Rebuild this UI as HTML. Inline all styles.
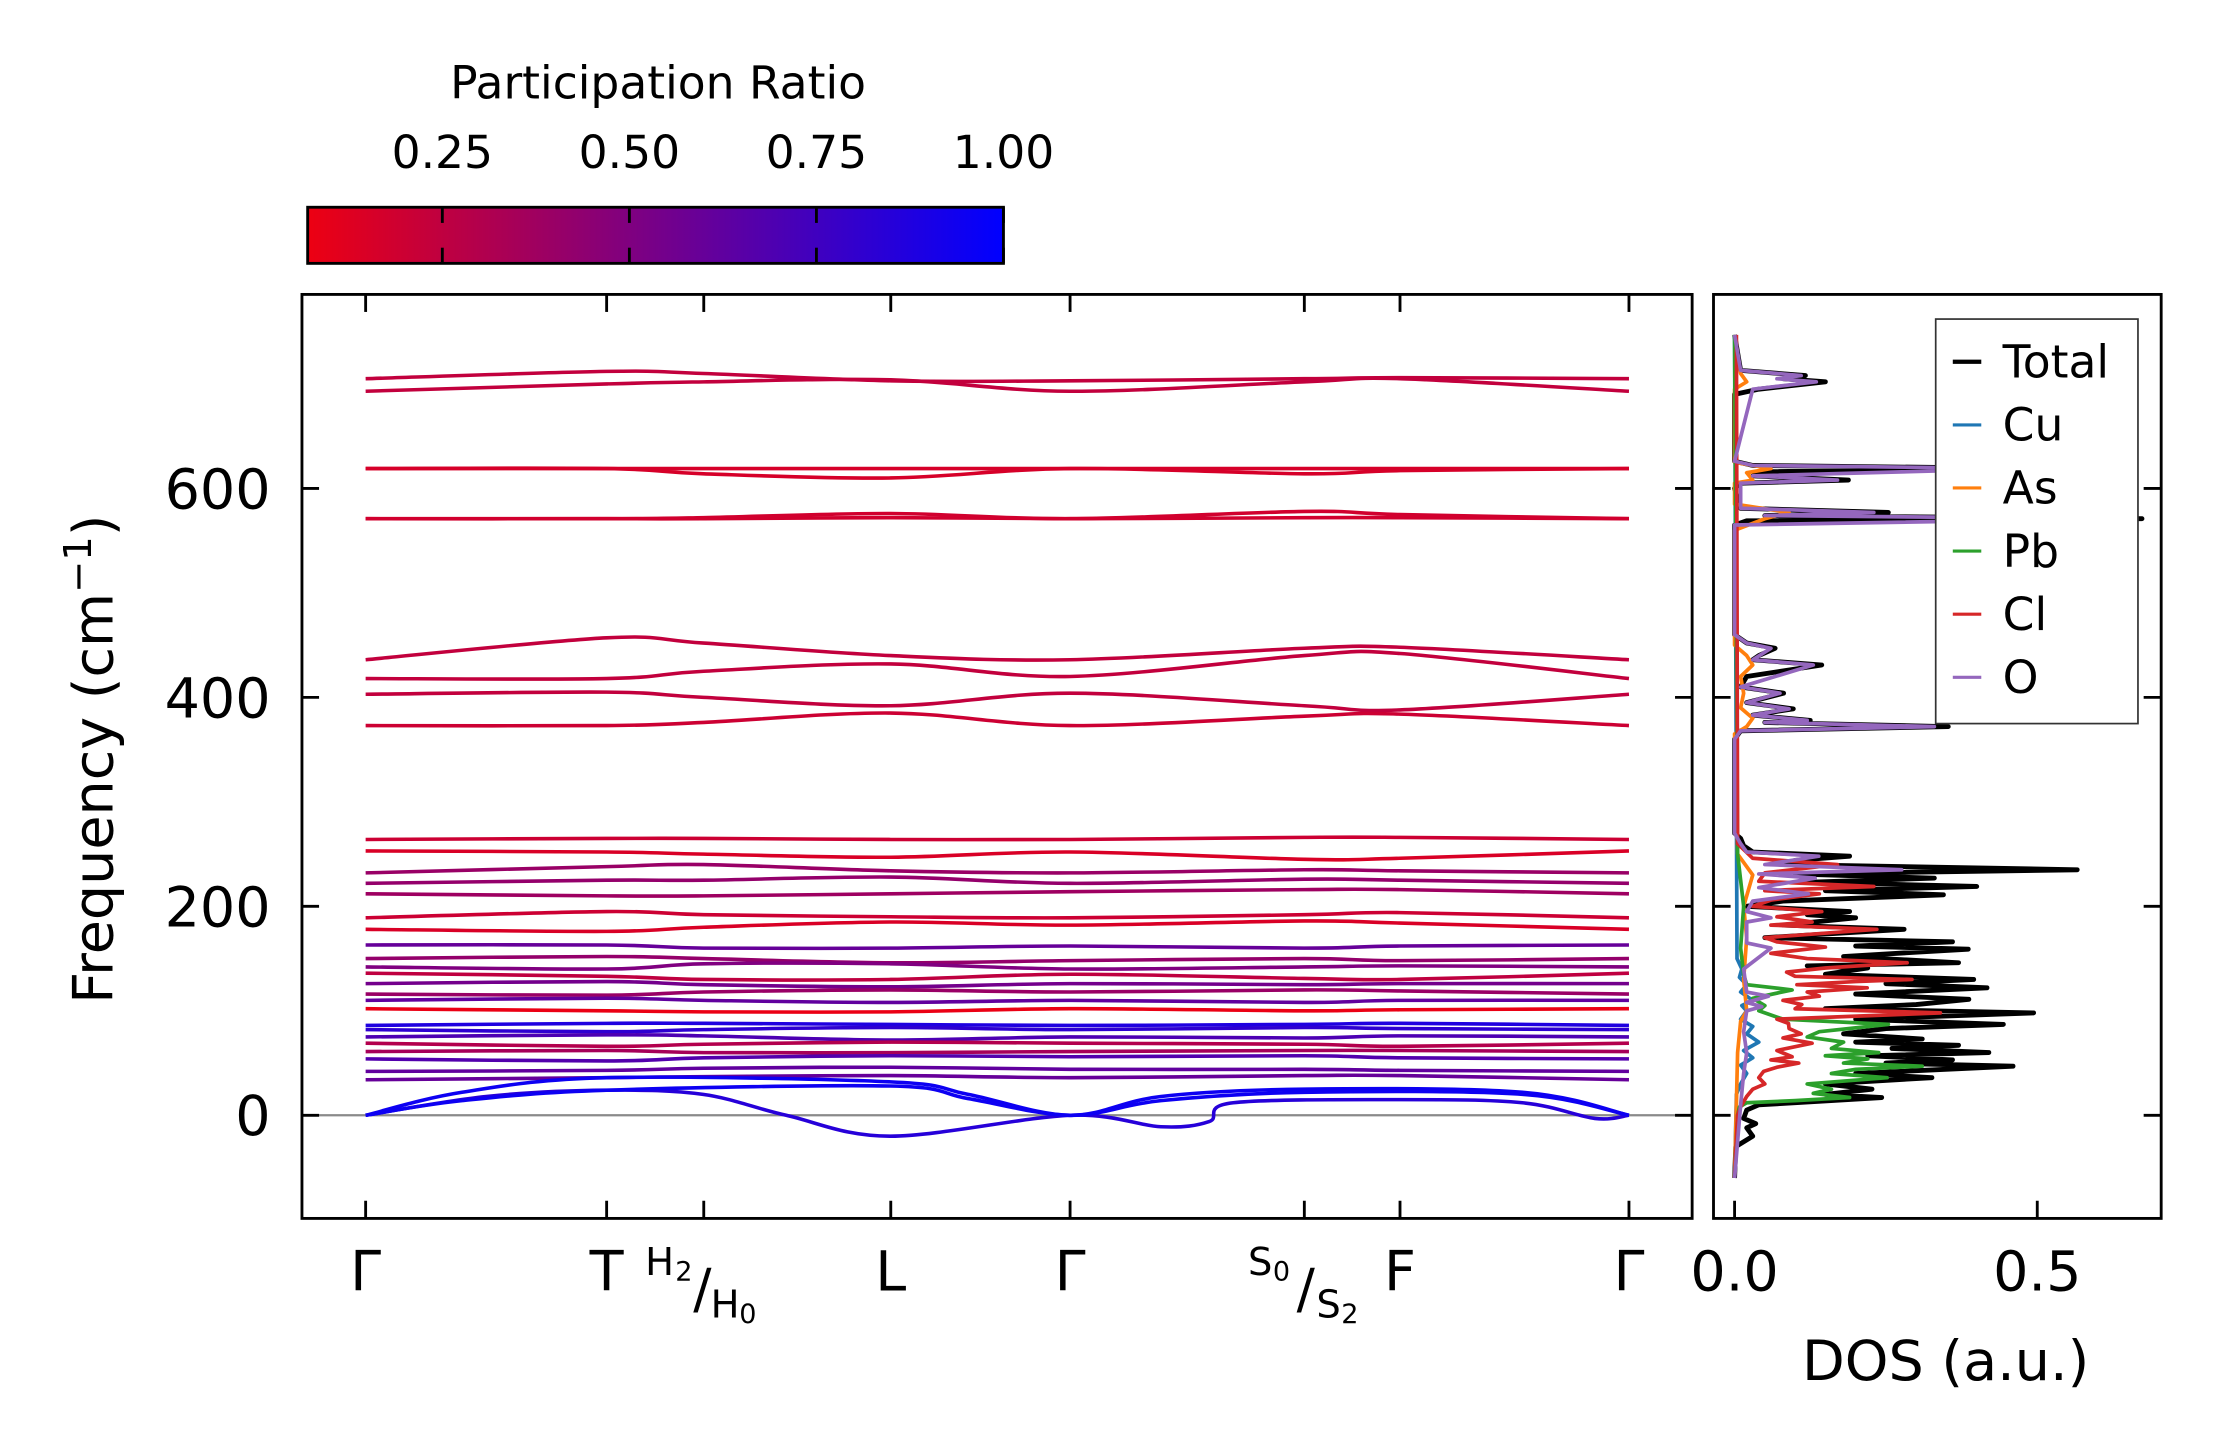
<!DOCTYPE html>
<html><head><meta charset="utf-8">
<style>
html,body{margin:0;padding:0;background:#fff;}
svg{display:block;}
text{font-family:"DejaVu Sans","Liberation Sans",sans-serif;fill:#000;}
</style></head>
<body>
<svg id="fig" xmlns="http://www.w3.org/2000/svg" width="2222" height="1455" viewBox="0 0 1560 1021.5" preserveAspectRatio="none">
<defs>
<clipPath id="clipMain"><rect x="212" y="206.7" width="976" height="648.7"/></clipPath>
<clipPath id="clipDos"><rect x="1203" y="206.7" width="314.3" height="648.7"/></clipPath>
<linearGradient id="cbGrad" x1="0" x2="1" y1="0" y2="0">
<stop offset="0" stop-color="rgb(237,0,18)"/><stop offset="1" stop-color="rgb(0,0,255)"/>
</linearGradient>
</defs>
<g id="bands" clip-path="url(#clipMain)"></g>
<g id="dos" clip-path="url(#clipDos)"></g>
<g id="axes"></g>
</svg>
<script>
// ---- data ----
const kTicks = [0, 1.0, 1.403, 2.179, 2.923, 3.895, 4.292, 5.242];
const kLabels = ["Γ","T","H","L","Γ","S","F","Γ"];
const yTicks = [0, 200, 400, 600];
const bandFreqs = [
 [705,712,710,703,703,705,706,705],
 [693,700,702,704,693,702,705,693],
 [619,619,619,619,619,619,619,619],
 [619,619,614,610,619,614,617,619],
 [571,571,572,576,571,578,575,571],
 [571,571,571,572,571,572,572,571],
 [436,457,452,440,436,447,448,436],
 [418,418,425,432,420,440,442,418],
 [403,405,400,392,404,392,388,403],
 [373,373,376,385,373,382,384,373],
 [264,265,265,264,264,266,266,264],
 [253,252,250,247,252,245,246,253],
 [232,238,240,234,232,235,234,232],
 [222,225,225,228,222,226,225,222],
 [212,210,210,212,214,216,216,212],
 [189,195,192,190,189,192,194,189],
 [178,176,180,185,182,186,184,178],
 [163,163,160,160,162,160,162,163],
 [150,152,150,146,148,150,148,150],
 [142,140,145,145,140,142,143,142],
 [136,133,130,130,135,131,130,136],
 [126,128,125,123,126,125,126,126],
 [116,115,118,120,118,120,119,116],
 [110,112,110,108,110,108,110,110],
 [102,100,99,99,102,100,101,102],
 [86,88,88,87,86,87,88,86],
 [82,80,82,84,82,84,83,82],
 [75,77,76,72,75,74,76,75],
 [69,66,68,70,69,68,66,69],
 [61,62,60,60,61,62,62,61],
 [54,52,55,57,56,57,55,54],
 [42,43,45,46,44,44,43,42],
 [34,36,37,38,36,38,38,34]
];
const bandPR = [0.24,0.24,0.16,0.16,0.18,0.18,0.24,0.24,0.24,0.2,0.2,0.15,0.4,0.42,0.38,0.2,0.15,0.6,0.42,0.5,0.25,0.55,0.4,0.62,0.08,0.88,0.82,0.7,0.3,0.35,0.68,0.62,0.6];
const acK1 = [0,0.5,1.0,1.4,1.745,2.179,2.923,3.3,3.5,3.6,4.292,4.8,5.1,5.242];
const acF1 = [0,18,24,20,0,-20,0,-11,-6,12,15,12,-3,0];
const acK2 = [0,0.4,1.0,2.179,2.5,2.923,3.3,3.895,4.8,5.242];
const acF2 = [0,22,36,32,20,0,18,25,22,0];
const acF3 = [0,14,24,28,16,0,14,22,20,0];
const acPR = [0.85,0.95,0.95];

const dosTicks = [0.0, 0.5];
const totF = [-60,-30,-20,-12,-8,-3,5,10,12,17,20,25,30,36,40,47,50,53,57,60,64,67,70,73,78,83,87,92,98,102,106,111,116,122,126,130,135,141,143,146,152,159,162,166,170,178,182,189,192,195,200,205,211,215,219,223,227,231,235,240,244,248,252,258,265,270,360,368,372,376,378,383,389,395,404,410,420,431,436,440,447,452,460,565,569,571,574,577,581,600,605,608,612,616,619,622,626,690,695,702,705,708,713,747];
const totV = [0,0.002,0.03,0.02,0.035,0.015,0.02,0.04,0.1,0.243,0.15,0.227,0.15,0.326,0.2,0.46,0.25,0.36,0.22,0.42,0.26,0.37,0.2,0.31,0.18,0.25,0.444,0.2,0.494,0.15,0.3,0.387,0.2,0.417,0.25,0.395,0.15,0.22,0.12,0.37,0.18,0.386,0.2,0.36,0.05,0.28,0.08,0.2,0.12,0.19,0.02,0.08,0.345,0.15,0.4,0.12,0.33,0.1,0.566,0.08,0.1,0.19,0.03,0.015,0.01,0,0,0.01,0.353,0.05,0.125,0.03,0.097,0.02,0.081,0.01,0.02,0.144,0.03,0.04,0.067,0.02,0,0,0.02,0.673,0.05,0.254,0.01,0,0.01,0.188,0.03,0.05,0.5,0.03,0,0,0.04,0.15,0.08,0.117,0.01,0];
const oF = [-60,10,40,60,80,100,104,108,114,118,140,160,165,185,189,195,205,212,218,227,231,235,240,248,252,260,270,360,368,372,376,378,383,389,395,404,410,431,436,447,452,460,565,571,574,577,581,605,608,612,619,622,626,695,702,705,708,713,747];
const oV = [0,0.01,0.015,0.02,0.015,0.02,0.045,0.02,0.056,0.02,0.015,0.06,0.02,0.02,0.06,0.02,0.03,0.122,0.04,0.133,0.04,0.276,0.05,0.139,0.02,0.01,0,0,0.01,0.33,0.05,0.12,0.03,0.09,0.02,0.075,0.01,0.13,0.03,0.06,0.02,0,0,0.62,0.05,0.23,0.01,0.01,0.17,0.03,0.48,0.03,0,0.03,0.135,0.07,0.11,0.01,0];
const clF = [-60,0,8,13,18,25,30,36,42,46,50,53,56,62,69,74,78,83,88,92,98,102,106,110,114,118,122,125,128,130,133,137,141,146,150,155,161,166,170,178,182,185,190,195,200,206,212,215,219,224,232,240,246,260,747];
const clV = [0,0.005,0.01,0.015,0.02,0.03,0.05,0.04,0.048,0.07,0.106,0.06,0.095,0.07,0.128,0.08,0.11,0.09,0.089,0.07,0.34,0.1,0.111,0.08,0.14,0.12,0.219,0.103,0.2,0.293,0.1,0.086,0.15,0.285,0.12,0.06,0.15,0.07,0.05,0.235,0.06,0.128,0.07,0.144,0.03,0.06,0.14,0.05,0.23,0.04,0.05,0.17,0.03,0.005,0.003];
const pbF = [-60,0,8,12,14,17,21,25,30,36,40,44,47,50,54,57,60,64,70,75,80,87,92,96,100,105,112,120,125,135,160,200,250,747];
const pbV = [0,0.005,0.008,0.02,0.1,0.19,0.13,0.16,0.12,0.252,0.16,0.2,0.31,0.18,0.22,0.15,0.238,0.16,0.18,0.12,0.14,0.254,0.08,0.06,0.04,0.05,0.03,0.095,0.02,0.015,0.01,0.015,0.005,0];
const cuF = [-60,20,30,40,48,55,62,70,78,85,92,100,105,110,118,125,132,140,150,747];
const cuV = [0,0.003,0.01,0.02,0.01,0.03,0.015,0.04,0.02,0.03,0.01,0.02,0.012,0.03,0.01,0.02,0.008,0.012,0.004,0];
const asF = [-60,60,90,100,130,170,200,230,250,365,372,380,390,404,420,431,440,450,560,571,577,585,605,608,615,619,625,695,702,710,747];
const asV = [0,0.005,0.01,0.02,0.015,0.02,0.015,0.03,0.005,0,0.02,0.03,0.01,0.015,0.01,0.03,0.02,0,0,0.05,0.09,0,0,0.03,0.02,0.06,0,0,0.02,0.01,0];

// ---- scales ----
const NS = "http://www.w3.org/2000/svg";
const kx = k => 256.7 + 169.2 * k;
const fy = f => 783 - 0.7335 * f;
const dx = v => 1217.8 + 425 * v;
const prColor = p => `rgb(${Math.round(255*(1-p))},0,${Math.round(255*p)})`;
function mk(tag, attrs, parent){const e=document.createElementNS(NS,tag);for(const a in attrs)e.setAttribute(a,attrs[a]);parent.appendChild(e);return e;}
function catmull(pts){
  let d=`M${pts[0][0].toFixed(2)},${pts[0][1].toFixed(2)}`;
  for(let i=0;i<pts.length-1;i++){
    const p0=pts[Math.max(0,i-1)],p1=pts[i],p2=pts[i+1],p3=pts[Math.min(pts.length-1,i+2)];
    const c1=[p1[0]+(p2[0]-p0[0])/6,p1[1]+(p2[1]-p0[1])/6];
    const c2=[p2[0]-(p3[0]-p1[0])/6,p2[1]-(p3[1]-p1[1])/6];
    d+=`C${c1[0].toFixed(2)},${c1[1].toFixed(2)} ${c2[0].toFixed(2)},${c2[1].toFixed(2)} ${p2[0].toFixed(2)},${p2[1].toFixed(2)}`;
  }
  return d;
}
const gB=document.getElementById('bands');
const gD=document.getElementById('dos');
const gA=document.getElementById('axes');

let zl=mk('line',{x1:212,x2:1188,y1:fy(0),y2:fy(0),stroke:'#8a8a8a','stroke-width':1.6},gB);



bandFreqs.forEach((fr,i)=>{
  const p=mk('path',{d:catmull(fr.map((f,j)=>[kx(kTicks[j]),fy(f)])),fill:'none',stroke:prColor(bandPR[i]),'stroke-width':2.5},gB);
  
  
});
[[acK1,acF1],[acK2,acF2],[acK2,acF3]].forEach((a,i)=>{
  const p=mk('path',{d:catmull(a[0].map((k,j)=>[kx(k),fy(a[1][j])])),fill:'none',stroke:prColor(acPR[i]),'stroke-width':2.5},gB);
  
  
});

const series=[["total",totF,totV,"#000000",3.4],["cu",cuF,cuV,"#1f77b4",2.6],["as",asF,asV,"#ff7f0e",2.6],["pb",pbF,pbV,"#2ca02c",2.6],["cl",clF,clV,"#d62728",2.6],["o",oF,oV,"#9467bd",2.6]];
series.forEach(s=>{
  const pts=s[1].map((f,j)=>dx(s[2][j]).toFixed(2)+','+fy(f).toFixed(2)).join(' ');
  const pl=mk('polyline',{points:pts,fill:'none',stroke:s[3],'stroke-width':s[4],'stroke-linejoin':'round'},gD);
  
  
});

let r1=mk('rect',{x:212,y:206.7,width:976,height:648.7,fill:'none',stroke:'#000','stroke-width':2},gA);


let r2=mk('rect',{x:1203,y:206.7,width:314.3,height:648.7,fill:'none',stroke:'#000','stroke-width':2},gA);



function txt(s,x,y,size,anchor,name,parent){const t=mk('text',{x:x,y:y,'font-size':size,'text-anchor':anchor||'middle'},parent||gA);t.textContent=s;return t;}

yTicks.forEach(v=>{
  const y=fy(v);
  [[212,224],[1176,1188],[1203,1215],[1505,1517.3]].forEach(([a,b])=>{
    const l=mk('line',{x1:a,x2:b,y1:y,y2:y,stroke:'#000','stroke-width':2},gA);
    
    
  });
  txt(String(v),190,y+14,39,'end','y-tick-label');
});
kTicks.forEach((k,i)=>{
  const x=kx(k);
  [[206.7,219],[843,855.4]].forEach(([a,b])=>{
    const l=mk('line',{x1:x,x2:x,y1:a,y2:b,stroke:'#000','stroke-width':2},gA);
    
    
  });
  if(kLabels[i]==="H"){
    txt("H",x-31,895,27,'middle','x-label-h2');
    txt("2",x-14,899,19,'middle','x-label-h2-sub');
    txt("/",x-1,918,38,'middle','x-label-slash');
    txt("H",x+15,925,27,'middle','x-label-h0');
    txt("0",x+31,929,19,'middle','x-label-h0-sub');
  } else if(kLabels[i]==="S"){
    txt("S",x-31,895,27,'middle','x-label-s0');
    txt("0",x-16,899,19,'middle','x-label-s0-sub');
    txt("/",x+1,918,38,'middle','x-label-slash');
    txt("S",x+17,925,27,'middle','x-label-s2');
    txt("2",x+32,929,19,'middle','x-label-s2-sub');
  } else {
    txt(kLabels[i],x,906,39,'middle','x-tick-label');
  }
});
dosTicks.forEach(v=>{
  const x=dx(v);
  const l=mk('line',{x1:x,x2:x,y1:843,y2:855.4,stroke:'#000','stroke-width':2},gA);
  
  
  txt(v.toFixed(1),x,906,39,'middle','dos-tick-label');
});
txt("DOS (a.u.)",1366,969,39,'middle','dos-axis-title');
const yl=mk('text',{x:0,y:0,'font-size':39,'text-anchor':'middle',transform:'translate(79,533) rotate(-90)'},gA);


yl.innerHTML='Frequency (cm<tspan font-size="27" dy="-15">−1</tspan><tspan dy="15">)</tspan>';

const cbL=216,cbR=704.5,cbT=145.5,cbB=184.9;
const cbMin=0.07,cbMax=1.0;
const cbTicks=[0.25,0.5,0.75,1.0];
const cx=v=>cbL+(v-cbMin)/(cbMax-cbMin)*(cbR-cbL);
let cb=mk('rect',{x:cbL,y:cbT,width:cbR-cbL,height:cbB-cbT,fill:'url(#cbGrad)',stroke:'#000','stroke-width':2},gA);


cbTicks.forEach(v=>{
  const x=cx(v);
  [[cbT,cbT+11],[cbB-11,cbB]].forEach(([a,b])=>{
    const l=mk('line',{x1:x,x2:x,y1:a,y2:b,stroke:'#000','stroke-width':2},gA);
    
    
  });
  txt(v.toFixed(2),x,118,32,'middle','colorbar-tick-label');
});
txt("Participation Ratio",462,69,32,'middle','colorbar-title');

const lg=mk('g',{},gA);


mk('rect',{x:1359,y:224,width:142,height:284,fill:'#fff',stroke:'#333','stroke-width':1.2},lg);
const legNames=["Total","Cu","As","Pb","Cl","O"];
const legColors=["#000000","#1f77b4","#ff7f0e","#2ca02c","#d62728","#9467bd"];
legNames.forEach((n,i)=>{
  const y=254+i*44.3;
  const l=mk('line',{x1:1371,x2:1391,y1:y,y2:y,stroke:legColors[i],'stroke-width':i==0?3:2.2},lg);
  
  
  txt(n,1406,y+11,32,'start','legend-entry-'+n.toLowerCase(),lg);
});
</script>
</body></html>
